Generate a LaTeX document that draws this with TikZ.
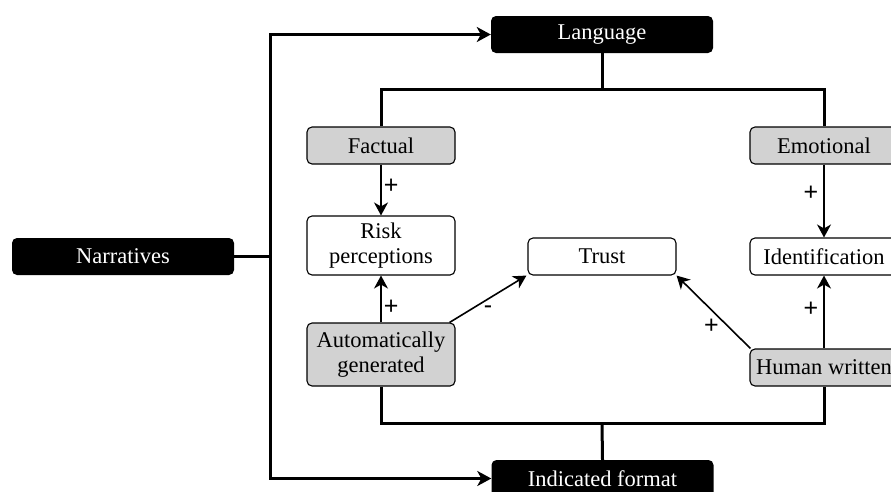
\documentclass[tikz,border=0pt]{standalone}
\usepackage{fontspec}
\setmainfont{Liberation Serif}
\newfontfamily\signfont{Liberation Sans}
\usetikzlibrary{arrows.meta}
\begin{document}
\begin{tikzpicture}[x=1pt,y=-1pt,
  base/.style={rounded corners=5pt, minimum width=148pt, minimum height=37pt, inner sep=0pt, align=center, font=\fontsize{22.5}{25}\selectfont},
  darkbox/.style={base, fill=black, text=white, minimum width=222pt},
  graybox/.style={base, draw=black, line width=1.1pt, fill=gray!35},
  whitebox/.style={base, draw=black, line width=1.1pt, fill=white},
  thickline/.style={line width=3pt},
  thickarrow/.style={line width=3pt, -{Stealth[length=14pt,width=15pt,inset=4pt]}},
  thinarrow/.style={line width=1.6pt, -{Stealth[length=13pt,width=14pt,inset=4pt]}},
  sign/.style={font=\signfont\fontsize{25}{25}\selectfont, inner sep=0pt}
]
\useasboundingbox (0,0) rectangle (891,491);
\clip (0,0) rectangle (891,491);

% nodes
\node[darkbox] (narr) at (123,256.5) {Narratives};
\node[darkbox] (lang) at (602,34.5) {Language};
\node[darkbox] (fmt) at (602.5,478.5) {Indicated format};

\node[graybox] (fact) at (381,145.5) {Factual};
\node[graybox] (emo) at (824,145.5) {Emotional};
\node[whitebox, minimum height=59pt] (risk) at (381,245.5) {Risk\\perceptions};
\node[whitebox] (trust) at (602,256.5) {Trust};
\node[whitebox] (ident) at (824,256.5) {Identification};
\node[graybox, minimum height=63pt] (ag) at (381,354.5) {Automatically\\generated};
\node[graybox] (hw) at (824,367.5) {Human written};

% junction coordinates
\coordinate (lj) at (602,89);
\coordinate (bj) at (602,423);
\coordinate (lx) at (270,256.5);

% thick structure lines
\draw[thickline] (narr.east) -- (lx);
\draw[thickarrow] (lx) |- (lang.west);
\draw[thickarrow] (lx) |- (fmt.west);
\draw[thickline] (lang.south) -- (lj);
\draw[thickline] (fact.north) -- (fact.north |- lj) -- (emo.north |- lj) -- (emo.north);
\draw[thickline] (ag.south) -- (ag.south |- bj) -- (hw.south |- bj) -- (hw.south);
\draw[thickline] (bj) -- (fmt.north);

% thin arrows
\draw[thinarrow] (fact) -- node[sign, right=2pt, pos=0.42] {+} (risk);
\draw[thinarrow] (ag) -- node[sign, right=2pt, pos=0.32] {+} (risk);
\draw[thinarrow] (emo) -- node[sign, left=5pt, pos=0.4] {+} (ident);
\draw[thinarrow] (hw) -- node[sign, left=5pt, pos=0.54] {+} (ident);
\draw[thinarrow] ([xshift=-6pt]ag.north east) -- node[sign, pos=0.5, below=6pt] {-} ([xshift=-1pt]trust.south west);
\draw[thinarrow] ([xshift=1pt]hw.north west) -- node[sign, pos=0.5, below=6pt, xshift=-2pt] {+} (trust.south east);
\end{tikzpicture}
\end{document}
